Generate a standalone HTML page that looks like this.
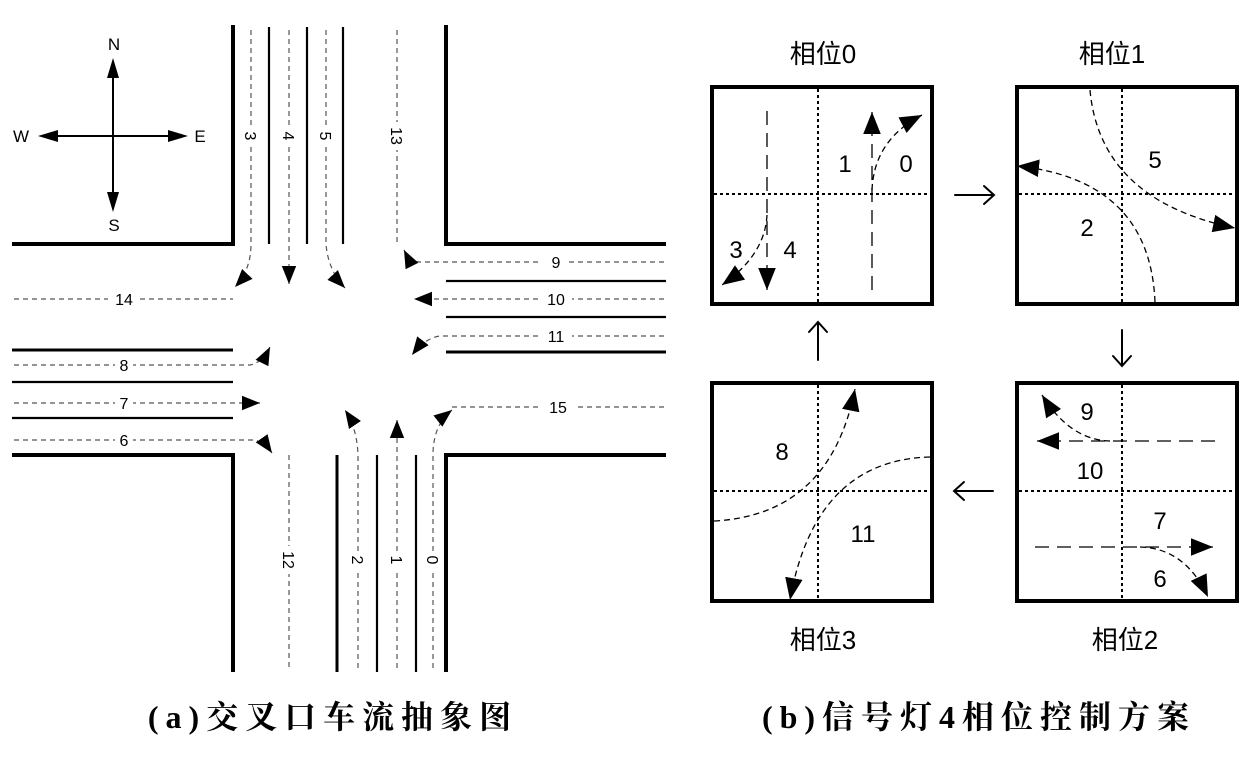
<!DOCTYPE html>
<html><head><meta charset="utf-8"><style>
html,body{margin:0;padding:0;background:#fff;}
svg{display:block;}
text{font-family:"Liberation Sans","Noto Sans CJK SC",sans-serif;fill:#000;}
.cap{font-family:"Liberation Serif","Noto Serif CJK SC",serif;font-size:32px;font-weight:bold;letter-spacing:7px;}
</style></head><body>
<svg width="1247" height="757" viewBox="0 0 1247 757" xmlns="http://www.w3.org/2000/svg">
<defs>
<marker id="ab" viewBox="0 0 10 10" refX="10" refY="5" markerWidth="22" markerHeight="22" markerUnits="userSpaceOnUse" orient="auto"><path d="M0,1 L10,5 L0,9 z" fill="#000"/></marker>
<marker id="am" viewBox="0 0 10 10" refX="10" refY="5" markerWidth="18" markerHeight="18" markerUnits="userSpaceOnUse" orient="auto"><path d="M0,1 L10,5 L0,9 z" fill="#000"/></marker>
</defs>
<!-- compass -->
<g stroke="#000" stroke-width="2" fill="none">
<line x1="113" y1="75" x2="113" y2="195"/>
<line x1="58" y1="136" x2="168" y2="136"/>
</g>
<g fill="#000">
<path d="M113,58 L107,78 L119,78z"/><path d="M113,212 L107,192 L119,192z"/>
<path d="M38,136 L58,130 L58,142z"/><path d="M188,136 L168,130 L168,142z"/>
</g>
<g font-size="17" text-anchor="middle">
<text x="114" y="50">N</text><text x="114" y="231">S</text><text x="21" y="142">W</text><text x="200" y="142">E</text>
</g>
<!-- curbs -->
<g stroke="#000" stroke-width="4" fill="none">
<path d="M233,25 V244 H12"/><path d="M446,25 V244 H666"/>
<path d="M12,455 H233 V672"/><path d="M666,455 H446 V672"/>
</g>
<g stroke="#000" stroke-width="2.2">
<line x1="269" y1="27" x2="269" y2="244"/><line x1="307" y1="27" x2="307" y2="244"/><line x1="343" y1="27" x2="343" y2="244"/>
<line x1="446" y1="281" x2="666" y2="281"/><line x1="446" y1="317" x2="666" y2="317"/><line x1="446" y1="352" x2="666" y2="352" stroke-width="3"/>
<line x1="12" y1="350" x2="233" y2="350" stroke-width="3"/><line x1="12" y1="382" x2="233" y2="382"/><line x1="12" y1="418" x2="233" y2="418"/>
<line x1="337" y1="455" x2="337" y2="672" stroke-width="3"/><line x1="377" y1="455" x2="377" y2="672"/><line x1="416" y1="455" x2="416" y2="672"/>
</g>
<g stroke="#555" stroke-width="1.2" stroke-dasharray="5,4" fill="none">
<path d="M251,30 V244 Q251,270 235,287" marker-end="url(#am)"/>
<path d="M289,30 V284" marker-end="url(#am)"/>
<path d="M326,30 V244 Q328,270 345,288" marker-end="url(#am)"/>
<path d="M397,30 V244"/>
<path d="M664,262 H420 Q410,262 404,250" marker-end="url(#am)"/>
<path d="M664,299 H414" marker-end="url(#am)"/>
<path d="M664,336 H440 Q425,338 412,355" marker-end="url(#am)"/>
<path d="M14,299 H233"/>
<path d="M14,365 H250 Q262,363 270,347" marker-end="url(#am)"/>
<path d="M14,403 H260" marker-end="url(#am)"/>
<path d="M14,440 H255 Q265,443 272,453" marker-end="url(#am)"/>
<path d="M664,407 H452"/>
<path d="M289,455 V668"/>
<path d="M358,668 V455 Q357,428 345,410" marker-end="url(#am)"/>
<path d="M397,668 V420" marker-end="url(#am)"/>
<path d="M433,668 V455 Q433,425 452,410" marker-end="url(#am)"/>
</g>
<g font-size="16" text-anchor="middle">
<g fill="#000">
<rect x="108" y="290" width="30" height="18" fill="#fff"/><text x="124" y="305">14</text>
<rect x="115" y="355" width="18" height="18" fill="#fff"/><text x="124" y="371">8</text>
<rect x="115" y="393" width="18" height="18" fill="#fff"/><text x="124" y="409">7</text>
<rect x="115" y="430" width="18" height="18" fill="#fff"/><text x="124" y="446">6</text>
<rect x="542" y="253" width="26" height="18" fill="#fff"/><text x="556" y="268">9</text>
<rect x="540" y="290" width="32" height="18" fill="#fff"/><text x="556" y="305">10</text>
<rect x="540" y="327" width="32" height="18" fill="#fff"/><text x="556" y="342">11</text>
<rect x="542" y="397" width="32" height="18" fill="#fff"/><text x="558" y="413">15</text>
</g>
<g transform="translate(251,136) rotate(90)"><rect x="-9" y="-8" width="18" height="16" fill="#fff"/><text x="0" y="6">3</text></g>
<g transform="translate(289,136) rotate(90)"><rect x="-9" y="-8" width="18" height="16" fill="#fff"/><text x="0" y="6">4</text></g>
<g transform="translate(326,136) rotate(90)"><rect x="-9" y="-8" width="18" height="16" fill="#fff"/><text x="0" y="6">5</text></g>
<g transform="translate(397,136) rotate(90)"><rect x="-14" y="-8" width="28" height="16" fill="#fff"/><text x="0" y="6">13</text></g>
<g transform="translate(289,560) rotate(90)"><rect x="-14" y="-8" width="28" height="16" fill="#fff"/><text x="0" y="6">12</text></g>
<g transform="translate(358,560) rotate(90)"><rect x="-9" y="-8" width="18" height="16" fill="#fff"/><text x="0" y="6">2</text></g>
<g transform="translate(397,560) rotate(90)"><rect x="-9" y="-8" width="18" height="16" fill="#fff"/><text x="0" y="6">1</text></g>
<g transform="translate(433,560) rotate(90)"><rect x="-9" y="-8" width="18" height="16" fill="#fff"/><text x="0" y="6">0</text></g>
</g>
<!-- right boxes -->
<g stroke="#000" stroke-width="4" fill="none">
<rect x="712" y="87" width="220" height="217"/><rect x="1017" y="87" width="220" height="217"/>
<rect x="712" y="383" width="220" height="218"/><rect x="1017" y="383" width="220" height="218"/>
</g>
<g stroke="#000" stroke-width="2" stroke-dasharray="3,3">
<line x1="818" y1="89" x2="818" y2="302"/><line x1="714" y1="194" x2="930" y2="194"/>
<line x1="1122" y1="89" x2="1122" y2="302"/><line x1="1019" y1="194" x2="1235" y2="194"/>
<line x1="818" y1="385" x2="818" y2="599"/><line x1="714" y1="491" x2="930" y2="491"/>
<line x1="1122" y1="385" x2="1122" y2="599"/><line x1="1019" y1="491" x2="1235" y2="491"/>
</g>
<g stroke="#000" stroke-width="1.3" fill="none">
<path d="M767,111 V290" stroke-dasharray="14,8" marker-end="url(#ab)"/>
<path d="M767,215 Q765,255 722,285" stroke-dasharray="6,4" marker-end="url(#ab)"/>
<path d="M872,290 V112" stroke-dasharray="14,8" marker-end="url(#ab)"/>
<path d="M872,190 Q874,140 922,115" stroke-dasharray="6,4" marker-end="url(#ab)"/>
<path d="M1090,90 Q1100,200 1235,228" stroke-dasharray="6,4" marker-end="url(#ab)"/>
<path d="M1155,302 Q1150,180 1017,166" stroke-dasharray="6,4" marker-end="url(#ab)"/>
<path d="M1215,441 H1037" stroke-dasharray="14,8" marker-end="url(#ab)"/>
<path d="M1110,441 Q1070,440 1042,395" stroke-dasharray="6,4" marker-end="url(#ab)"/>
<path d="M1035,547 H1213" stroke-dasharray="14,8" marker-end="url(#ab)"/>
<path d="M1140,547 Q1185,548 1208,597" stroke-dasharray="6,4" marker-end="url(#ab)"/>
<path d="M714,521 Q830,515 855,389" stroke-dasharray="6,4" marker-end="url(#ab)"/>
<path d="M930,457 Q815,460 790,600" stroke-dasharray="6,4" marker-end="url(#ab)"/>
</g>
<g font-size="24" text-anchor="middle">
<text x="736" y="258">3</text><text x="790" y="258">4</text><text x="845" y="172">1</text><text x="906" y="172">0</text>
<text x="1155" y="168">5</text><text x="1087" y="236">2</text>
<text x="1087" y="420">9</text><text x="1090" y="479">10</text><text x="1160" y="529">7</text><text x="1160" y="587">6</text>
<text x="782" y="460">8</text><text x="863" y="542">11</text>
</g>
<g font-size="26" text-anchor="middle">
<text x="823" y="63">相位0</text><text x="1112" y="63">相位1</text>
<text x="823" y="649">相位3</text><text x="1125" y="649">相位2</text>
</g>
<!-- phase arrows -->
<g stroke="#000" stroke-width="2" fill="none" stroke-linecap="round">
<path d="M955,195 H994 M984,186 L994,195 L984,204"/>
<path d="M1122,330 V366 M1113,356 L1122,366 L1131,356"/>
<path d="M993,491 H954 M964,482 L954,491 L964,500"/>
<path d="M818,360 V322 M809,332 L818,322 L827,332"/>
</g>
<text class="cap" x="333" y="728" text-anchor="middle">(a)交叉口车流抽象图</text>
<text class="cap" x="979" y="728" text-anchor="middle">(b)信号灯4相位控制方案</text>
</svg>
</body></html>
